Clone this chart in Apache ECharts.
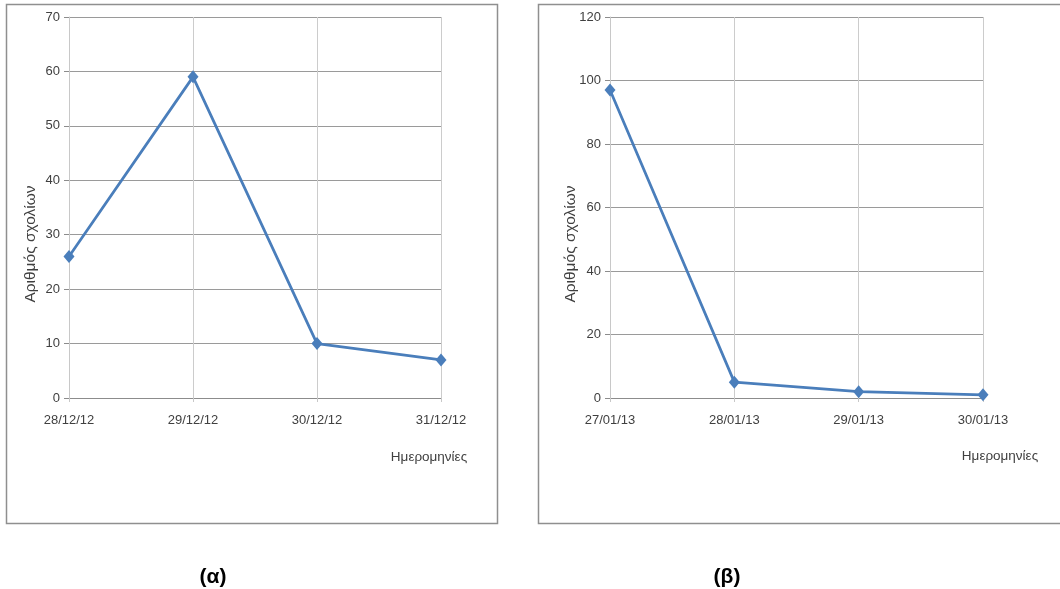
<!DOCTYPE html>
<html>
<head>
<meta charset="utf-8">
<script src="https://cdn.jsdelivr.net/npm/echarts@6/dist/echarts.min.js"></script>
<style>
html,body{margin:0;padding:0;background:#fff;}
#c{width:1060px;height:589px;}
</style>
</head>
<body>
<div id="c"></div>
<script>
const datesA = ['28/12/12', '29/12/12', '30/12/12', '31/12/12'];
const valuesA = [26, 59, 10, 7];
const datesB = ['27/01/13', '28/01/13', '29/01/13', '30/01/13'];
const valuesB = [97, 5, 2, 1];
const yTitle = 'Αριθμός σχολίων';
const xTitle = 'Ημερομηνίες';
const panelLabels = ['(α)', '(β)'];

const FONT = '"Liberation Sans Narrow", "Liberation Sans", sans-serif';
const lineColor = '#4a7ebb';

function xAxisCfg(idx, cats) {
  return {
    type: 'category', gridIndex: idx, data: cats, boundaryGap: false,
    axisLine: { show: true, lineStyle: { color: '#8c8c8c', width: 1 } },
    axisTick: { show: true, length: 4, alignWithLabel: true, lineStyle: { color: '#c8c8c8' } },
    axisLabel: { color: '#404040', fontFamily: FONT, fontSize: 13, margin: 16 },
    splitLine: { show: true, lineStyle: { color: '#cccccc', width: 1 } }
  };
}
function yAxisCfg(idx, max, interval) {
  return {
    type: 'value', gridIndex: idx, min: 0, max: max, interval: interval,
    axisLine: { show: true, lineStyle: { color: '#c8c8c8', width: 1 } },
    axisTick: { show: true, length: 5, lineStyle: { color: '#8c8c8c' } },
    axisLabel: { color: '#404040', fontFamily: FONT, fontSize: 13, margin: 9 },
    splitLine: { show: true, lineStyle: { color: '#9a9a9a', width: 1 } }
  };
}
function seriesCfg(idx, vals) {
  return {
    type: 'line', xAxisIndex: idx, yAxisIndex: idx, data: vals,
    symbol: 'diamond', symbolSize: [11, 13],
    lineStyle: { color: lineColor, width: 2.75 },
    itemStyle: { color: lineColor },
    animation: false
  };
}

const chart = echarts.init(document.getElementById('c'), null, { renderer: 'canvas' });
chart.setOption({
  backgroundColor: '#ffffff',
  animation: false,
  grid: [
    { left: 69, right: 619, top: 17, bottom: 191 },
    { left: 610, right: 77, top: 17, bottom: 191 }
  ],
  xAxis: [xAxisCfg(0, datesA), xAxisCfg(1, datesB)],
  yAxis: [yAxisCfg(0, 70, 10), yAxisCfg(1, 120, 20)],
  series: [seriesCfg(0, valuesA), seriesCfg(1, valuesB)],
  graphic: [
    { type: 'rect', z: -1, shape: { x: 6.5, y: 4.5, width: 491, height: 519 },
      style: { fill: 'none', stroke: '#8f8f8f', lineWidth: 1.5 } },
    { type: 'rect', z: -1, shape: { x: 538.5, y: 4.5, width: 540, height: 519 },
      style: { fill: 'none', stroke: '#8f8f8f', lineWidth: 1.5 } },
    { type: 'text', x: 31, y: 244, rotation: Math.PI / 2,
      style: { text: yTitle, fill: '#404040', font: '15.5px ' + FONT, align: 'center', verticalAlign: 'middle' } },
    { type: 'text', x: 571, y: 244, rotation: Math.PI / 2,
      style: { text: yTitle, fill: '#404040', font: '15.5px ' + FONT, align: 'center', verticalAlign: 'middle' } },
    { type: 'text', x: 429, y: 457,
      style: { text: xTitle, fill: '#404040', font: '13.5px ' + FONT, align: 'center', verticalAlign: 'middle' } },
    { type: 'text', x: 1000, y: 456,
      style: { text: xTitle, fill: '#404040', font: '13.5px ' + FONT, align: 'center', verticalAlign: 'middle' } },
    { type: 'text', x: 213, y: 577,
      style: { text: panelLabels[0], fill: '#000000', font: 'bold 21px "Liberation Sans", sans-serif', align: 'center', verticalAlign: 'middle' } },
    { type: 'text', x: 727, y: 577,
      style: { text: panelLabels[1], fill: '#000000', font: 'bold 21px "Liberation Sans", sans-serif', align: 'center', verticalAlign: 'middle' } }
  ]
});
</script>
</body>
</html>
